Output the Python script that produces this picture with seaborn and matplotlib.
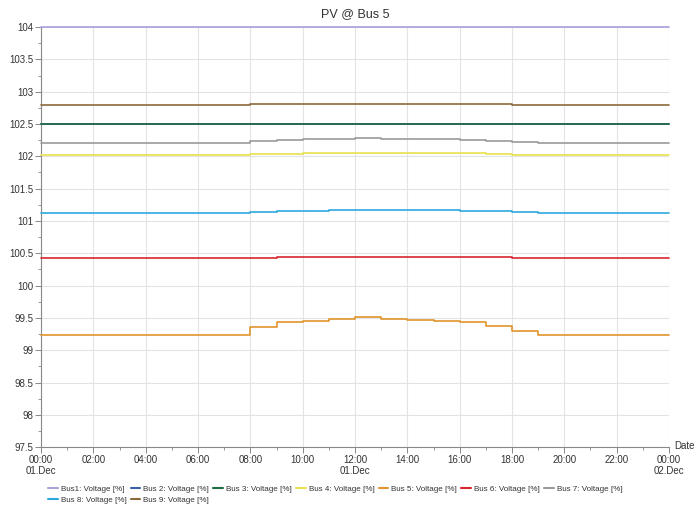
import pandas as pd
import numpy as np
import seaborn as sns
import matplotlib.pyplot as plt
import matplotlib.dates as mdates
from matplotlib.ticker import MultipleLocator

# hourly values, 00:00 .. 24:00 (step-post)
hours = list(range(25))

bus1 = [104.0] * 25
bus2 = [102.5] * 25
bus3 = [102.5] * 25
bus4 = [102.015] * 8 + [102.03, 102.04, 102.045, 102.05, 102.05, 102.05, 102.05,
                        102.048, 102.045, 102.035, 102.025] + [102.015] * 6
bus5 = [99.24] * 8 + [99.36, 99.43, 99.46, 99.49, 99.52, 99.49, 99.47, 99.46,
                      99.44, 99.38, 99.29] + [99.24] * 6
bus6 = [100.42] * 8 + [100.43, 100.438, 100.44, 100.443, 100.445, 100.445, 100.443,
                       100.442, 100.44, 100.436, 100.43] + [100.424] * 6
bus7 = [102.20] * 8 + [102.235, 102.255, 102.265, 102.27, 102.277, 102.27, 102.266,
                       102.262, 102.256, 102.24, 102.215] + [102.20] * 6
bus8 = [101.118] * 8 + [101.14, 101.155, 101.16, 101.163, 101.168, 101.167, 101.165,
                        101.163, 101.157, 101.147, 101.136] + [101.12] * 6
bus9 = [102.795] * 8 + [102.805, 102.808, 102.81, 102.812, 102.814, 102.813, 102.812,
                        102.81, 102.808, 102.805, 102.8] + [102.795] * 6

series_names = ["Bus1: Voltage [%]", "Bus 2: Voltage [%]", "Bus 3: Voltage [%]",
                "Bus 4: Voltage [%]", "Bus 5: Voltage [%]", "Bus 6: Voltage [%]",
                "Bus 7: Voltage [%]", "Bus 8: Voltage [%]", "Bus 9: Voltage [%]"]
series_values = [bus1, bus2, bus3, bus4, bus5, bus6, bus7, bus8, bus9]
colors = ["#a9a0dc", "#3b5ea8", "#1d6b3e", "#e8e24c", "#e0952c",
          "#d8262e", "#9a9a9a", "#2ea8dd", "#8a6a3c"]

xtick_hours = list(range(0, 25, 2))
xtick_labels = ["00:00\n01.Dec", "02:00", "04:00", "06:00", "08:00", "10:00",
                "12:00\n01.Dec", "14:00", "16:00", "18:00", "20:00", "22:00",
                "00:00\n02.Dec"]
yticks = [97.5, 98, 98.5, 99, 99.5, 100, 100.5, 101, 101.5, 102, 102.5, 103, 103.5, 104]
ytick_labels = ["97.5", "98", "98.5", "99", "99.5", "100", "100.5", "101", "101.5",
                "102", "102.5", "103", "103.5", "104"]

start = pd.Timestamp("2020-12-01 00:00")
times = [start + pd.Timedelta(hours=h) for h in hours]

rows = []
for name, vals in zip(series_names, series_values):
    for t, v in zip(times, vals):
        rows.append({"time": t, "value": v, "series": name})
df = pd.DataFrame(rows)

sns.set_style("white")
plt.rcParams["font.family"] = ["Liberation Sans", "DejaVu Sans"]

fig = plt.figure(figsize=(7, 5.2), dpi=100)
ax = fig.add_axes([0.0586, 0.140, 0.8971, 0.808])

sns.lineplot(data=df, x="time", y="value", hue="series", hue_order=series_names,
             palette=colors, drawstyle="steps-post", linewidth=1.2, ax=ax,
             legend=False, zorder=3)
for ln in ax.lines:
    ln.set_clip_on(False)

ax.set_xlim(start, start + pd.Timedelta(hours=24))
ax.set_ylim(97.5, 104)

ax.set_xticks([mdates.date2num(start + pd.Timedelta(hours=h)) for h in xtick_hours])
ax.set_xticklabels(xtick_labels)
ax.xaxis.set_minor_locator(mdates.HourLocator(interval=1))
ax.set_yticks(yticks)
ax.set_yticklabels(ytick_labels)
ax.yaxis.set_minor_locator(MultipleLocator(0.25))

ax.grid(True, which="major", color="#e3e3e3", linewidth=0.8, zorder=0)
ax.set_axisbelow(True)
for s in ["top", "right"]:
    ax.spines[s].set_visible(False)
for s in ["left", "bottom"]:
    ax.spines[s].set_color("#888888")
    ax.spines[s].set_linewidth(0.8)

ax.tick_params(which="major", direction="out", length=4, width=0.7, color="#888888",
               labelsize=7, labelcolor="#333333", left=True, bottom=True, pad=1.5)
ax.tick_params(which="minor", direction="out", length=2, width=0.6, color="#888888",
               left=True, bottom=True)
ax.set_xlabel("")
ax.set_ylabel("")

ax.set_title("PV @ Bus 5", fontsize=9, color="#333333", pad=7)
ax.annotate("Date", xy=(1.008, 0.004), xycoords="axes fraction", ha="left", va="center",
            fontsize=7, color="#333333")

handles = [plt.Line2D([], [], color=c, linewidth=1.5) for c in colors]
order = [0, 7, 1, 8, 2, 3, 4, 5, 6]
ax.legend([handles[i] for i in order], [series_names[i] for i in order],
          ncol=7, loc="upper left", bbox_to_anchor=(0.011, -0.09),
          frameon=False, fontsize=5.8, handlelength=1.2, handletextpad=0.4,
          columnspacing=0.5, labelspacing=0.45, labelcolor="#333333",
          borderaxespad=0, borderpad=0)

fig.savefig("out.png", dpi=100)
